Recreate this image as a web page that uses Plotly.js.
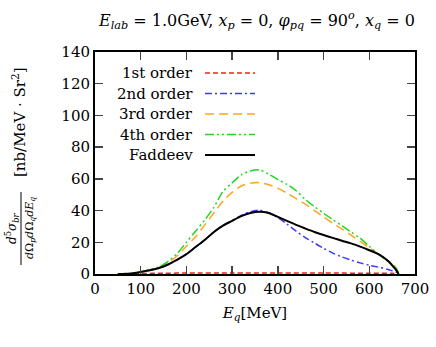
<!DOCTYPE html>
<html>
<head>
<meta charset="utf-8">
<script src="https://cdn.plot.ly/plotly-3.0.1.min.js"></script>
<style>html,body{margin:0;padding:0;background:#fff;}#chart{width:436px;height:347px;}</style>
</head>
<body>
<div id="chart"></div>
<script>
// Energy grid (MeV)
const Eq = [50, 80, 100, 120, 140, 160, 180, 200, 220, 240, 260, 280, 300, 320, 340, 360, 380, 400, 420, 440, 460, 480, 500, 520, 540, 560, 580, 600, 620, 640, 650, 660, 664];
const order4 = [0, 0.5, 1.5, 2.8, 4.5, 8, 13, 20, 27, 34, 42, 52, 57.5, 62.5, 65, 65.6, 63, 59.5, 56.5, 52.5, 47, 42.5, 38.3, 34.3, 30.5, 26.5, 22.5, 17.5, 12.5, 8, 6, 3, 0];
const order3 = [0, 0.5, 1.4, 2.6, 4.2, 7.2, 11.5, 17.5, 23.5, 31, 38.5, 46, 51.5, 55.5, 57.3, 57.6, 56.3, 54, 51, 47.5, 44, 40, 36, 32, 28.5, 24.5, 20.5, 16.5, 12.5, 8.5, 6.5, 3, 0];
const faddeev = [0, 0.4, 1.3, 2.4, 3.8, 6, 9, 12.5, 17, 21.5, 26.5, 30.5, 33.5, 36.5, 38.5, 39.3, 38.5, 36, 33.5, 31, 28.7, 26.5, 24.6, 22.8, 21, 19.3, 17.3, 15, 12.5, 8.5, 5.5, 2, 0];
const order2 = [0, 0.4, 1.3, 2.4, 3.8, 6, 9, 12.5, 17, 21.5, 26.5, 30.5, 33.7, 37, 39.3, 40.2, 38.5, 35.5, 31.5, 27, 23, 19.5, 16.2, 13.2, 10.8, 8.8, 7, 5.5, 4.3, 3, 2, 1, 0];
const EqFirst = [50, 100, 150, 200, 300, 400, 500, 600, 650, 664];
const order1 = [0, 0.3, 0.5, 0.6, 0.7, 0.7, 0.6, 0.5, 0.4, 0];

const seriesNames = ["1st order", "2nd order", "3rd order", "4th order", "Faddeev"];
const xTicks = [0, 100, 200, 300, 400, 500, 600, 700];
const yTicks = [0, 20, 40, 60, 80, 100, 120, 140];

const colors = ["#ff1a1a", "#3a3aff", "#ffa520", "#1ed61e", "#000000"];
const dashes = ["5px,3px", "7px,3px,2px,3px", "9px,5px", "9px,3px,2px,3px,2px,3px", "solid"];
const widths = [1.5, 1.5, 1.5, 1.5, 2];
const xs = [EqFirst, Eq, Eq, Eq, Eq];
const ys = [order1, order2, order3, order4, faddeev];

// plot area in pixels
const L = 95, R = 415, T = 52, B = 274;
const px = v => (v - L) / (R - L);
const py = v => (B - v) / (B - T);

const traces = [];
for (let i = 0; i < 5; i++) {
  traces.push({
    x: xs[i], y: ys[i], type: 'scatter', mode: 'lines', name: seriesNames[i],
    line: {color: colors[i], dash: dashes[i], width: widths[i], shape: 'spline', smoothing: 0.8},
    showlegend: false, hoverinfo: 'skip'
  });
}

const FAM = 'DejaVu Serif';
const fnt = s => ({family: FAM, size: s, color: '#000'});
const annotations = [];
const shapes = [];
const rowY = [73, 93.5, 114, 134.5, 155];
for (let i = 0; i < 5; i++) {
  annotations.push({xref: 'paper', yref: 'paper', x: px(195), y: py(rowY[i]), xanchor: 'right', yanchor: 'middle',
    text: seriesNames[i], showarrow: false, font: fnt(15)});
  shapes.push({type: 'line', xref: 'paper', yref: 'paper', x0: px(205), x1: px(255), y0: py(rowY[i]), y1: py(rowY[i]),
    line: {color: colors[i], width: widths[i], dash: dashes[i]}});
}
// y-axis title as fraction
annotations.push({xref: 'paper', yref: 'paper', x: px(12), y: py(228), xanchor: 'center', yanchor: 'middle', textangle: -90,
  text: '<i>d</i><sup>5</sup><i>σ</i><sub><i>br</i></sub>', showarrow: false, font: fnt(12)});
shapes.push({type: 'line', xref: 'paper', yref: 'paper', x0: px(21), x1: px(21), y0: py(192), y1: py(265), line: {color: '#000', width: 1}});
annotations.push({xref: 'paper', yref: 'paper', x: px(30), y: py(228), xanchor: 'center', yanchor: 'middle', textangle: -90,
  text: '<i>d</i>Ω<sub><i>p</i></sub><i>d</i>Ω<sub><i>q</i></sub><i>dE</i><sub><i>q</i></sub>', showarrow: false, font: fnt(11)});
annotations.push({xref: 'paper', yref: 'paper', x: px(19), y: py(122), xanchor: 'center', yanchor: 'middle', textangle: -90,
  text: '[nb/MeV · Sr<sup>2</sup>]', showarrow: false, font: fnt(15)});

const layout = {
  width: 436, height: 347,
  margin: {l: L, r: 436 - R, t: T, b: 347 - B},
  paper_bgcolor: '#fff', plot_bgcolor: '#fff',
  font: fnt(15),
  title: {text: '<i>E</i><sub><i>lab</i></sub> = 1.0GeV, <i>x</i><sub><i>p</i></sub> = 0, <i>φ</i><sub><i>pq</i></sub> = 90<sup><i>o</i></sup>, <i>x</i><sub><i>q</i></sub> = 0',
    font: fnt(16), x: px(257), xref: 'paper', xanchor: 'center', y: 1 - 20 / 347, yanchor: 'middle'},
  xaxis: {range: [0, 700], tickvals: xTicks, ticktext: xTicks.map(String), ticks: 'inside', ticklen: 8, tickwidth: 1.5,
    showline: true, linecolor: '#000', linewidth: 2, mirror: 'allticks', showgrid: false, zeroline: false,
    title: {text: '<i>E</i><sub><i>q</i></sub>[MeV]', font: fnt(15), standoff: 10},
    tickfont: fnt(15), fixedrange: true},
  yaxis: {range: [0, 140], tickvals: yTicks, ticktext: yTicks.map(String), ticks: 'inside', ticklen: 8, tickwidth: 1.5,
    showline: true, linecolor: '#000', linewidth: 2, mirror: 'allticks', showgrid: false, zeroline: false,
    tickfont: fnt(15), fixedrange: true},
  showlegend: false,
  annotations: annotations,
  shapes: shapes
};
Plotly.newPlot('chart', traces, layout, {displayModeBar: false, staticPlot: true});
</script>
</body>
</html>
